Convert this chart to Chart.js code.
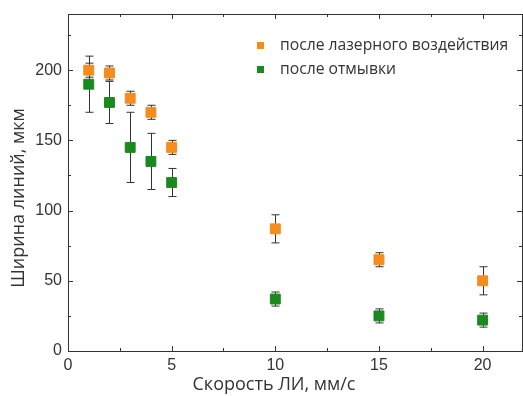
<!DOCTYPE html>
<html>
<head>
<meta charset="utf-8">
<script src="https://cdn.jsdelivr.net/npm/chart.js@4"></script>
<style>
  html, body { margin: 0; padding: 0; background: #fff; overflow: hidden; }
  #wrap { width: 523px; height: 396px; overflow: hidden; }
  #widthChart { display: block; }
</style>
</head>
<body>
<div id="wrap"><canvas id="widthChart"></canvas></div>
<script>
// скорость лазерного излучения, мм/с
const speeds = [1, 2, 3, 4, 5, 10, 15, 20];
// ширина линий после лазерного воздействия, мкм
const widthLaser = [200, 198, 180, 170, 145, 87, 65, 50];
const errLaser = [5, 5, 5, 5, 5, 10, 5, 10];
// ширина линий после отмывки, мкм
const widthWash = [190, 177, 145, 135, 120, 37, 25, 22];
const errWash = [20, 15, 25, 20, 10, 5, 5, 5];

const xMajor = [0, 5, 10, 15, 20];
const xMinor = [2.5, 7.5, 12.5, 17.5];
const yMajor = [0, 50, 100, 150, 200];
const yMinor = [25, 75, 125, 175, 225];

const xTitle = 'Скорость ЛИ, мм/с';
const yTitle = 'Ширина линий, мкм';

const ORANGE = '#f58c1f';
const GREEN = '#1a8a1f';
const INK = '#333333';
const TITLE_FONT = '18px "Open Sans", sans-serif';

function toPoints(xs, ys, errs) {
  return xs.map((x, i) => ({ x: x, y: ys[i], err: errs[i] }));
}

const errorBars = {
  id: 'errorBars',
  beforeDatasetsDraw(chart) {
    const ctx = chart.ctx;
    const xs = chart.scales.x, ys = chart.scales.y;
    ctx.save();
    ctx.strokeStyle = INK;
    ctx.lineWidth = 1;
    chart.data.datasets.forEach(ds => {
      ds.data.forEach(p => {
        const px = Math.round(xs.getPixelForValue(p.x)) + 0.5;
        const top = ys.getPixelForValue(p.y + p.err);
        const bot = ys.getPixelForValue(p.y - p.err);
        ctx.beginPath();
        ctx.moveTo(px, top); ctx.lineTo(px, bot);
        ctx.moveTo(px - 4, top); ctx.lineTo(px + 4, top);
        ctx.moveTo(px - 4, bot); ctx.lineTo(px + 4, bot);
        ctx.stroke();
      });
    });
    ctx.restore();
  }
};

const frameTicks = {
  id: 'frameTicks',
  afterDraw(chart) {
    const ctx = chart.ctx;
    const a = chart.chartArea;
    const xs = chart.scales.x, ys = chart.scales.y;
    ctx.save();
    ctx.strokeStyle = INK;
    ctx.lineWidth = 1;
    ctx.strokeRect(Math.round(a.left) + 0.5, Math.round(a.top) + 0.5,
      Math.round(a.right - a.left), Math.round(a.bottom - a.top));
    ctx.beginPath();
    const xTick = (v, len) => {
      const px = Math.round(xs.getPixelForValue(v)) + 0.5;
      ctx.moveTo(px, a.bottom); ctx.lineTo(px, a.bottom - len);
      ctx.moveTo(px, a.top); ctx.lineTo(px, a.top + len);
    };
    const yTick = (v, len) => {
      const py = Math.round(ys.getPixelForValue(v)) + 0.5;
      ctx.moveTo(a.left, py); ctx.lineTo(a.left + len, py);
      ctx.moveTo(a.right, py); ctx.lineTo(a.right - len, py);
    };
    xMajor.forEach(v => xTick(v, 5));
    xMinor.forEach(v => xTick(v, 3));
    yMajor.forEach(v => yTick(v, 5));
    yMinor.forEach(v => yTick(v, 3));
    ctx.stroke();

    // подписи осей
    ctx.fillStyle = INK;
    ctx.font = TITLE_FONT;
    ctx.textAlign = 'center';
    ctx.textBaseline = 'middle';
    ctx.fillText(xTitle, 274, 385);
    ctx.save();
    ctx.translate(19, 198);
    ctx.rotate(-Math.PI / 2);
    ctx.fillText(yTitle, 0, 0);
    ctx.restore();

    // легенда внутри области построения
    ctx.font = '15.7px "Open Sans", sans-serif';
    ctx.textAlign = 'left';
    chart.data.datasets.forEach((ds, i) => {
      const y = 46 + i * 24;
      ctx.fillStyle = ds.backgroundColor;
      ctx.fillRect(257, y - 4, 7, 7);
      ctx.fillStyle = INK;
      ctx.fillText(ds.label, 280, y);
    });
    ctx.restore();
  }
};

new Chart(document.getElementById('widthChart'), {
  type: 'scatter',
  data: {
    datasets: [
      {
        label: 'после лазерного воздействия',
        data: toPoints(speeds, widthLaser, errLaser),
        backgroundColor: ORANGE,
        borderColor: ORANGE,
        borderWidth: 1,
        pointStyle: 'rect',
        pointRadius: 7,
        pointHoverRadius: 7
      },
      {
        label: 'после отмывки',
        data: toPoints(speeds, widthWash, errWash),
        backgroundColor: GREEN,
        borderColor: GREEN,
        borderWidth: 1,
        pointStyle: 'rect',
        pointRadius: 7,
        pointHoverRadius: 7
      }
    ]
  },
  options: {
    responsive: true,
    maintainAspectRatio: false,
    animation: false,
    layout: {
      autoPadding: false,
      padding: { top: 14, right: 1, left: 0, bottom: 0 }
    },
    plugins: {
      legend: { display: false },
      tooltip: { enabled: false }
    },
    scales: {
      x: {
        type: 'linear',
        min: 0,
        max: 21.9,
        grid: { display: false, drawTicks: false },
        border: { display: false },
        ticks: {
          stepSize: 5,
          includeBounds: false,
          padding: 5,
          color: INK,
          font: { family: 'Arial, "Liberation Sans"', size: 16 }
        },
        afterFit(scale) {
          scale.height = 45;
          scale.paddingLeft = 0;
          scale.paddingRight = 0;
        }
      },
      y: {
        min: 0,
        max: 240,
        grid: { display: false, drawTicks: false },
        border: { display: false },
        ticks: {
          stepSize: 50,
          includeBounds: false,
          padding: 6,
          color: INK,
          font: { family: 'Arial, "Liberation Sans"', size: 16 }
        },
        afterFit(scale) {
          scale.width = 68;
          scale.paddingTop = 0;
          scale.paddingBottom = 0;
        }
      }
    }
  },
  plugins: [errorBars, frameTicks]
});
</script>
</body>
</html>
